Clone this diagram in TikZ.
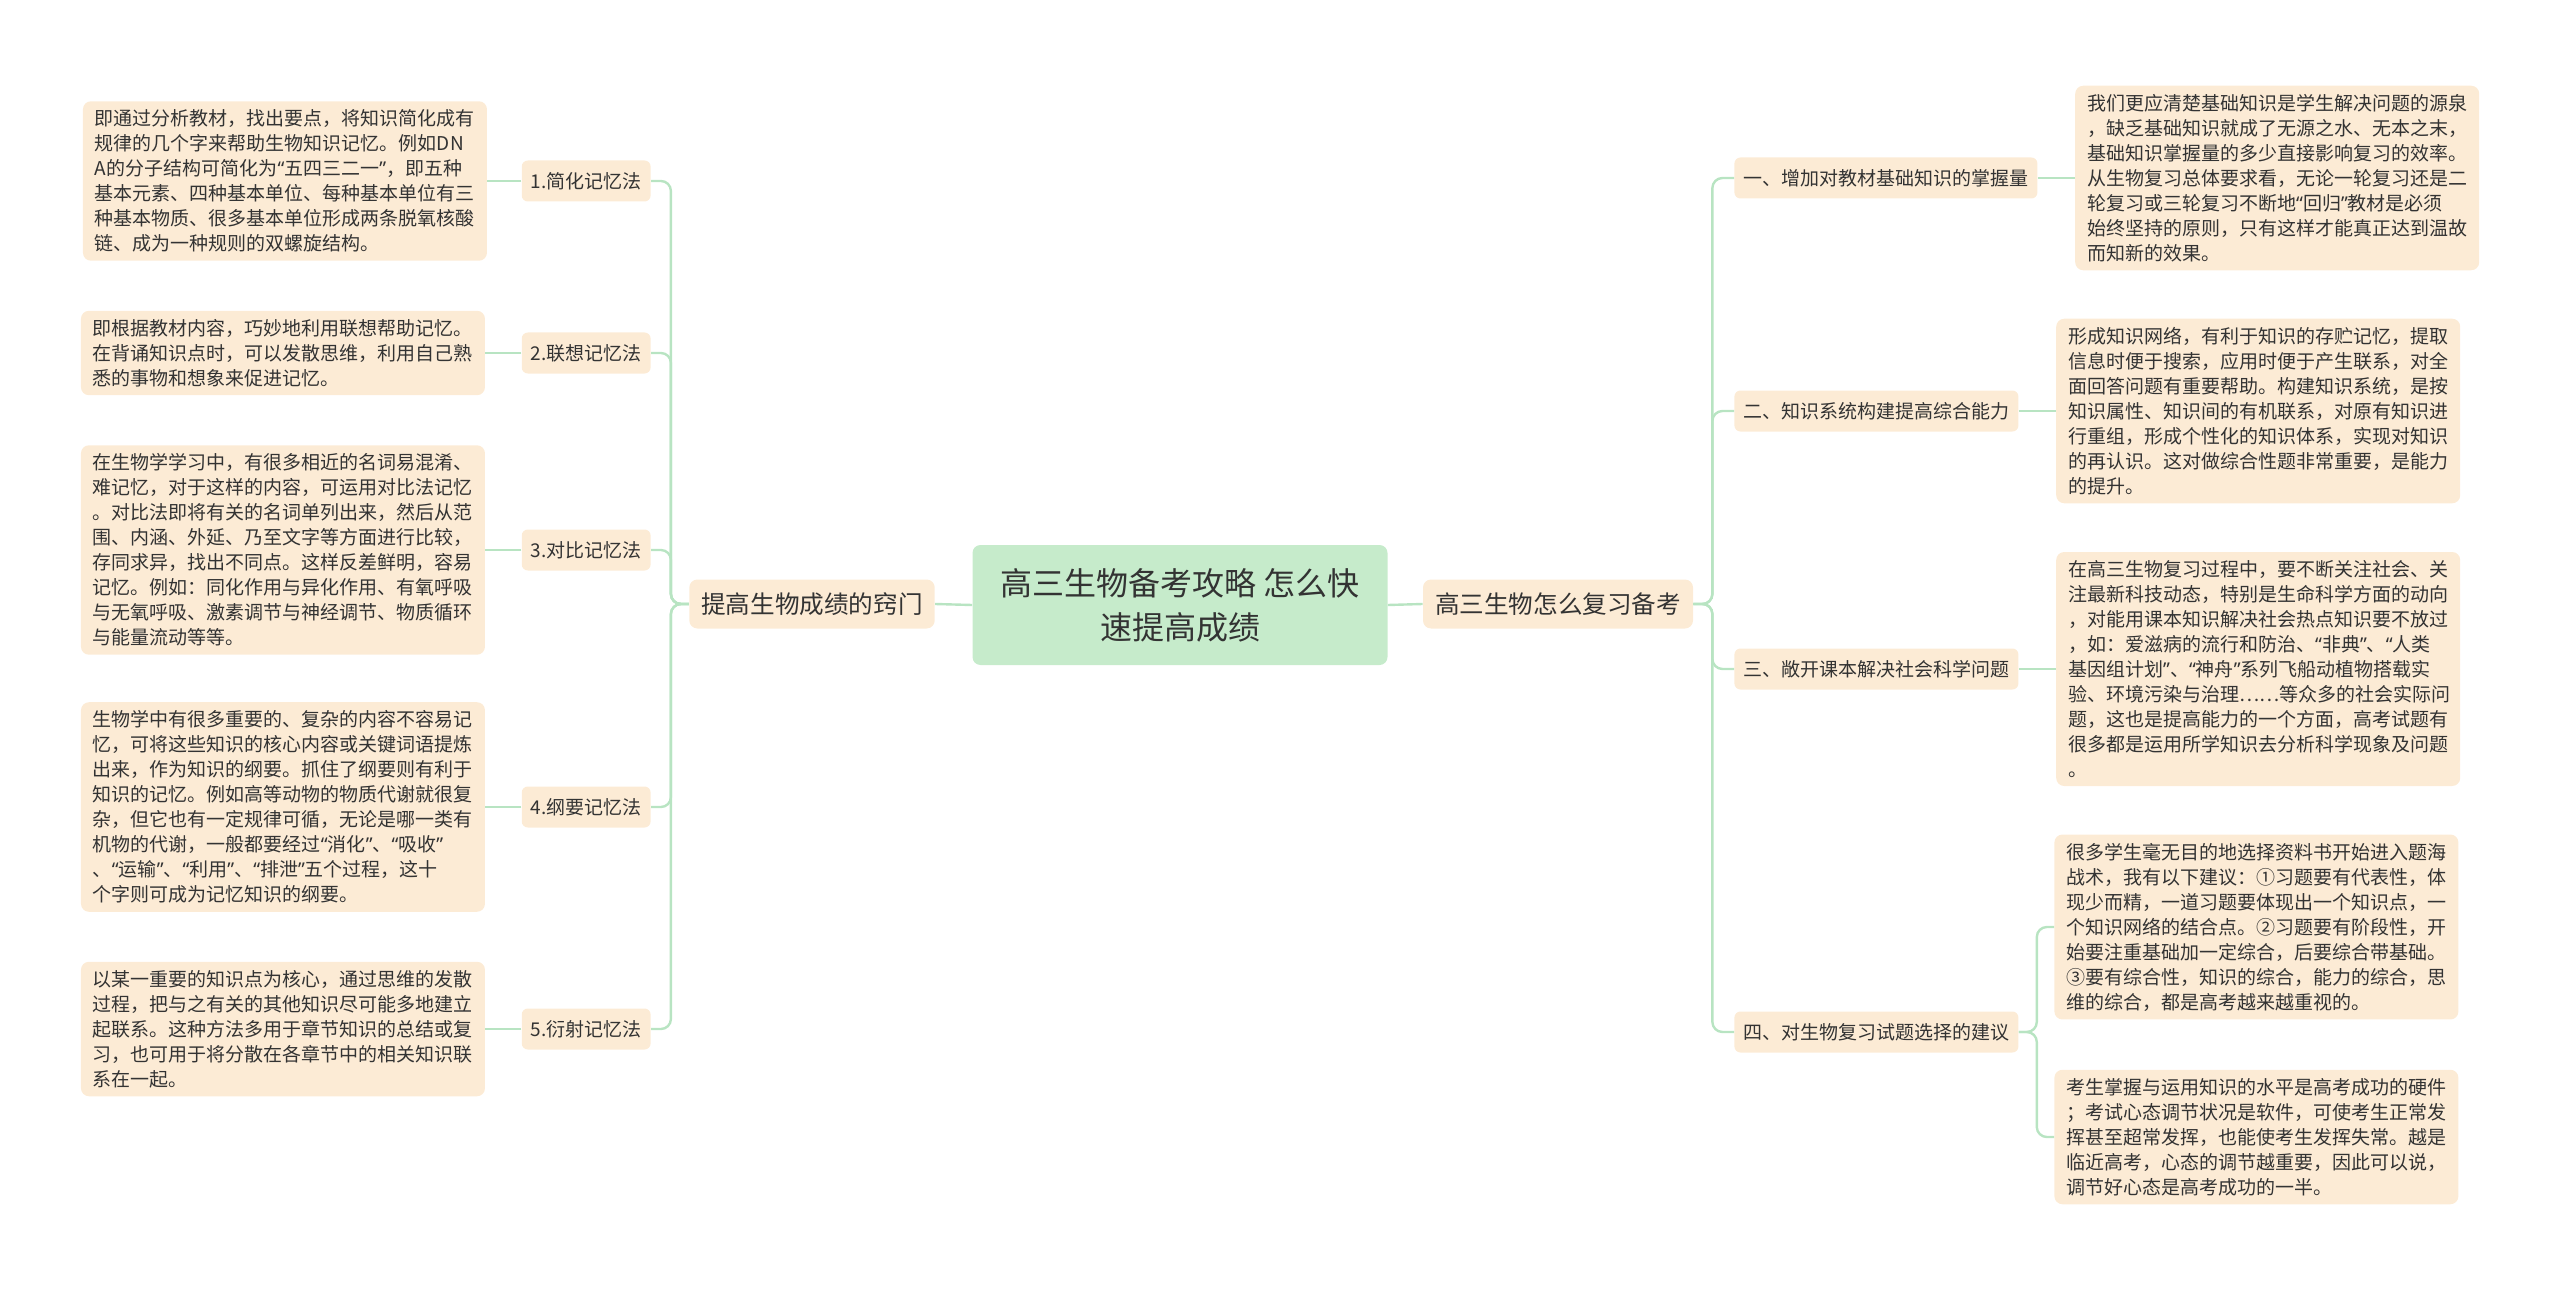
\documentclass[tikz,border=0pt]{standalone}
\usepackage{fontspec}
\setmainfont{Noto Sans CJK SC}
\newfontfamily\quotefont{Noto Sans}
\newcommand\oq{{\quotefont “}}
\newcommand\cq{{\quotefont ”}}
\usetikzlibrary{positioning}
\definecolor{peach}{HTML}{FCEBD5}
\definecolor{mint}{HTML}{C6EBCB}
\definecolor{twig}{HTML}{B8E4C2}
\definecolor{ink}{HTML}{333333}

\begin{document}
\begin{tikzpicture}[x=0.5pt,y=-0.5pt,
    every node/.style={text=ink,inner sep=0pt},
    rootbox/.style={fill=mint,rounded corners=4pt,minimum width=207.5pt,
      minimum height=60pt,align=center,font=\fontsize{16}{22}\selectfont},
    mainbox/.style={fill=peach,rounded corners=4pt,inner xsep=6pt,
      minimum height=24.5pt,font=\fontsize{12.3}{15}\selectfont},
    subbox/.style={fill=peach,rounded corners=3pt,inner xsep=4.5pt,
      minimum height=20.5pt,font=\fontsize{9.5}{12}\selectfont},
    notebox/.style={fill=peach,rounded corners=4pt,inner xsep=6pt,
      inner ysep=4.2pt,text width=190pt,align=left,
      font=\fontsize{9.5}{12.5}\selectfont},
    link/.style={draw=twig,line width=1.2pt,rounded corners=5pt}
  ]
  \useasboundingbox (0,0) rectangle (2560,1289);

  % centre
  \node[rootbox] (root) at (1180,605) {高三生物备考攻略 怎么快\\速提高成绩};
  \node[mainbox] (lmain) at (812,604) {提高生物成绩的窍门};
  \node[mainbox] (rmain) at (1558,604) {高三生物怎么复习备考};

  % left branch
  \node[subbox,anchor=east] (s1) at (651,181) {1.简化记忆法};
  \node[subbox,anchor=east] (s2) at (651,353) {2.联想记忆法};
  \node[subbox,anchor=east] (s3) at (651,550) {3.对比记忆法};
  \node[subbox,anchor=east] (s4) at (651,807) {4.纲要记忆法};
  \node[subbox,anchor=east] (s5) at (651,1029) {5.衍射记忆法};

  \node[notebox,left=17pt of s1] (d1) {即通过分析教材，找出要点，将知识简化成有\\
    规律的几个字来帮助生物知识记忆。例如DN\\
    A的分子结构可简化为\oq 五四三二一\cq，即五种\\
    基本元素、四种基本单位、每种基本单位有三\\
    种基本物质、很多基本单位形成两条脱氧核酸\\
    链、成为一种规则的双螺旋结构。};
  \node[notebox,left=18pt of s2] (d2) {即根据教材内容，巧妙地利用联想帮助记忆。\\
    在背诵知识点时，可以发散思维，利用自己熟\\
    悉的事物和想象来促进记忆。};
  \node[notebox,left=18pt of s3] (d3) {在生物学学习中，有很多相近的名词易混淆、\\
    难记忆，对于这样的内容，可运用对比法记忆\\
    。对比法即将有关的名词单列出来，然后从范\\
    围、内涵、外延、乃至文字等方面进行比较，\\
    存同求异，找出不同点。这样反差鲜明，容易\\
    记忆。例如：同化作用与异化作用、有氧呼吸\\
    与无氧呼吸、激素调节与神经调节、物质循环\\
    与能量流动等等。};
  \node[notebox,left=18pt of s4] (d4) {生物学中有很多重要的、复杂的内容不容易记\\
    忆，可将这些知识的核心内容或关键词语提炼\\
    出来，作为知识的纲要。抓住了纲要则有利于\\
    知识的记忆。例如高等动物的物质代谢就很复\\
    杂，但它也有一定规律可循，无论是哪一类有\\
    机物的代谢，一般都要经过\oq 消化\cq、\oq 吸收\cq\\
    、\oq 运输\cq、\oq 利用\cq、\oq 排泄\cq 五个过程，这十\\
    个字则可成为记忆知识的纲要。};
  \node[notebox,left=18pt of s5] (d5) {以某一重要的知识点为核心，通过思维的发散\\
    过程，把与之有关的其他知识尽可能多地建立\\
    起联系。这种方法多用于章节知识的总结或复\\
    习，也可用于将分散在各章节中的相关知识联\\
    系在一起。};

  % right branch
  \node[subbox,anchor=west] (r1) at (1734,178) {一、增加对教材基础知识的掌握量};
  \node[subbox,anchor=west] (r2) at (1734,411) {二、知识系统构建提高综合能力};
  \node[subbox,anchor=west] (r3) at (1734,669) {三、敞开课本解决社会科学问题};
  \node[subbox,anchor=west] (r4) at (1734,1032) {四、对生物复习试题选择的建议};

  \node[notebox,right=18.5pt of r1] (e1) {我们更应清楚基础知识是学生解决问题的源泉\\
    ，缺乏基础知识就成了无源之水、无本之末，\\
    基础知识掌握量的多少直接影响复习的效率。\\
    从生物复习总体要求看，无论一轮复习还是二\\
    轮复习或三轮复习不断地\oq 回归\cq 教材是必须\\
    始终坚持的原则，只有这样才能真正达到温故\\
    而知新的效果。};
  \node[notebox,right=18.5pt of r2] (e2) {形成知识网络，有利于知识的存贮记忆，提取\\
    信息时便于搜索，应用时便于产生联系，对全\\
    面回答问题有重要帮助。构建知识系统，是按\\
    知识属性、知识间的有机联系，对原有知识进\\
    行重组，形成个性化的知识体系，实现对知识\\
    的再认识。这对做综合性题非常重要，是能力\\
    的提升。};
  \node[notebox,right=18.5pt of r3] (e3) {在高三生物复习过程中，要不断关注社会、关\\
    注最新科技动态，特别是生命科学方面的动向\\
    ，对能用课本知识解决社会热点知识要不放过\\
    ，如：爱滋病的流行和防治、\oq 非典\cq、\oq 人类\\
    基因组计划\cq、\oq 神舟\cq 系列飞船动植物搭载实\\
    验、环境污染与治理……等众多的社会实际问\\
    题，这也是提高能力的一个方面，高考试题有\\
    很多都是运用所学知识去分析科学现象及问题\\
    。};
  \node[notebox,anchor=west] (e4) at (2054,927) {很多学生毫无目的地选择资料书开始进入题海\\
    战术，我有以下建议：①习题要有代表性，体\\
    现少而精，一道习题要体现出一个知识点，一\\
    个知识网络的结合点。②习题要有阶段性，开\\
    始要注重基础加一定综合，后要综合带基础。\\
    ③要有综合性，知识的综合，能力的综合，思\\
    维的综合，都是高考越来越重视的。};
  \node[notebox,anchor=west] (e5) at (2054,1137) {考生掌握与运用知识的水平是高考成功的硬件\\
    ；考试心态调节状况是软件，可使考生正常发\\
    挥甚至超常发挥，也能使考生发挥失常。越是\\
    临近高考，心态的调节越重要，因此可以说，\\
    调节好心态是高考成功的一半。};

  % links
  \draw[link] (root.west) -- (lmain.east);
  \draw[link] (root.east) -- (rmain.west);
  \foreach \s/\d in {s1/d1,s2/d2,s3/d3,s4/d4,s5/d5}{
    \draw[link] (lmain.west) -- ++(-18,0) |- (\s.east);
    \draw[link] (\s.west) -- (\d.east);
  }
  \foreach \r in {r1,r2,r3,r4}
    \draw[link] (rmain.east) -- ++(19,0) |- (\r.west);
  \foreach \r/\e in {r1/e1,r2/e2,r3/e3}
    \draw[link] (\r.east) -- (\e.west);
  \draw[link] (r4.east) -- ++(18,0) |- (e4.west);
  \draw[link] (r4.east) -- ++(18,0) |- (e5.west);
\end{tikzpicture}
\end{document}
